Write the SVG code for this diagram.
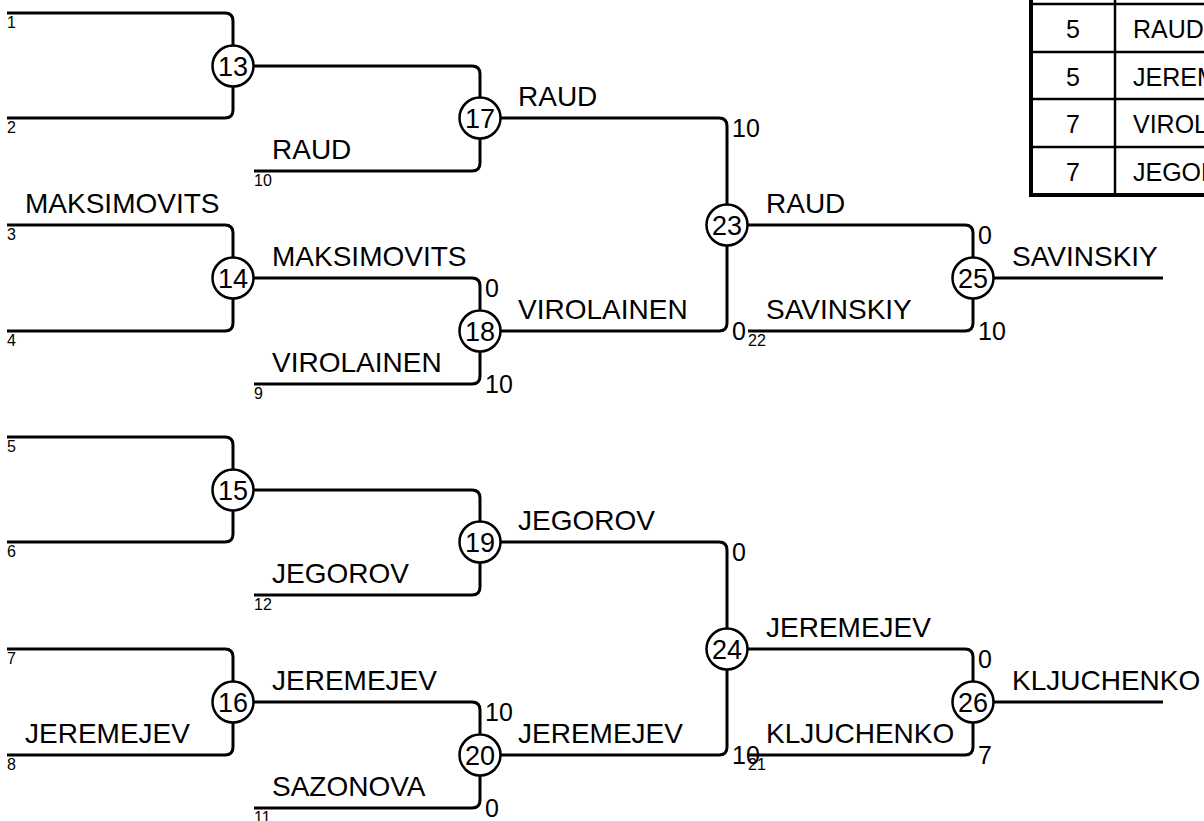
<svg xmlns="http://www.w3.org/2000/svg" width="1204" height="821" viewBox="0 0 1204 821">
<style>
.ln{fill:none;stroke:#000;stroke-width:3;stroke-linecap:butt}
.nd circle{fill:#fff;stroke:#000;stroke-width:2.5}
.nd text{font-family:"Liberation Sans",Arial,sans-serif;font-size:27px;text-anchor:middle;fill:#000}
.nm{font-family:"Liberation Sans",Arial,sans-serif;font-size:28px;fill:#000}
.sd{font-family:"Liberation Sans",Arial,sans-serif;font-size:16px;fill:#000}
.sc{font-family:"Liberation Sans",Arial,sans-serif;font-size:25px;fill:#000}
.tb{font-family:"Liberation Sans",Arial,sans-serif;font-size:25px;fill:#000}
.tl{stroke:#000;stroke-width:2.5;fill:none}
</style>
<rect width="1204" height="821" fill="#fff"/>
<g id="connectors">
<path class="ln" d="M7,13 H225 Q233,13 233,21 V66"/>
<path class="ln" d="M7,118 H225 Q233,118 233,110 V66"/>
<path class="ln" d="M233,66 H472 Q480,66 480,74 V118"/>
<path class="ln" d="M254,171 H472 Q480,171 480,163 V118"/>
<path class="ln" d="M7,225 H225 Q233,225 233,233 V278"/>
<path class="ln" d="M7,331 H225 Q233,331 233,323 V278"/>
<path class="ln" d="M233,278 H472 Q480,278 480,286 V331"/>
<path class="ln" d="M254,384 H472 Q480,384 480,376 V331"/>
<path class="ln" d="M480,118 H719 Q727,118 727,126 V225"/>
<path class="ln" d="M480,331 H719 Q727,331 727,323 V225"/>
<path class="ln" d="M727,225 H965 Q973,225 973,233 V278"/>
<path class="ln" d="M748,331 H965 Q973,331 973,323 V278"/>
<path class="ln" d="M973,278 H1163"/>
<path class="ln" d="M7,437 H225 Q233,437 233,445 V490"/>
<path class="ln" d="M7,542 H225 Q233,542 233,534 V490"/>
<path class="ln" d="M233,490 H472 Q480,490 480,498 V542"/>
<path class="ln" d="M254,595 H472 Q480,595 480,587 V542"/>
<path class="ln" d="M7,649 H225 Q233,649 233,657 V702"/>
<path class="ln" d="M7,755 H225 Q233,755 233,747 V702"/>
<path class="ln" d="M233,702 H472 Q480,702 480,710 V755"/>
<path class="ln" d="M254,808 H472 Q480,808 480,800 V755"/>
<path class="ln" d="M480,542 H719 Q727,542 727,550 V649"/>
<path class="ln" d="M480,755 H719 Q727,755 727,747 V649"/>
<path class="ln" d="M727,649 H965 Q973,649 973,657 V702"/>
<path class="ln" d="M748,755 H965 Q973,755 973,747 V702"/>
<path class="ln" d="M973,702 H1163"/>
</g>
<g id="node-13" class="nd"><circle cx="233" cy="66" r="20.5"/><text x="233" y="76">13</text></g>
<g id="node-14" class="nd"><circle cx="233" cy="278" r="20.5"/><text x="233" y="288">14</text></g>
<g id="node-15" class="nd"><circle cx="233" cy="490" r="20.5"/><text x="233" y="500">15</text></g>
<g id="node-16" class="nd"><circle cx="233" cy="702" r="20.5"/><text x="233" y="712">16</text></g>
<g id="node-17" class="nd"><circle cx="480" cy="118" r="20.5"/><text x="480" y="128">17</text></g>
<g id="node-18" class="nd"><circle cx="480" cy="331" r="20.5"/><text x="480" y="341">18</text></g>
<g id="node-19" class="nd"><circle cx="480" cy="542" r="20.5"/><text x="480" y="552">19</text></g>
<g id="node-20" class="nd"><circle cx="480" cy="755" r="20.5"/><text x="480" y="765">20</text></g>
<g id="node-23" class="nd"><circle cx="727" cy="225" r="20.5"/><text x="727" y="235">23</text></g>
<g id="node-24" class="nd"><circle cx="727" cy="649" r="20.5"/><text x="727" y="659">24</text></g>
<g id="node-25" class="nd"><circle cx="973" cy="278" r="20.5"/><text x="973" y="288">25</text></g>
<g id="node-26" class="nd"><circle cx="973" cy="702" r="20.5"/><text x="973" y="712">26</text></g>
<g id="seed-labels" class="sd">
<text x="7" y="28">1</text><text x="7" y="133">2</text><text x="7" y="240">3</text><text x="7" y="346">4</text>
<text x="7" y="452">5</text><text x="7" y="557">6</text><text x="7" y="664">7</text><text x="7" y="770">8</text>
<text x="254" y="186">10</text><text x="254" y="399">9</text><text x="254" y="610">12</text><text x="254" y="823">11</text>
<text x="748" y="346">22</text><text x="748" y="770">21</text>
</g>
<g id="names" class="nm">
<text x="25" y="213">MAKSIMOVITS</text>
<text x="25" y="743">JEREMEJEV</text>
<text x="272" y="159">RAUD</text>
<text x="272" y="266">MAKSIMOVITS</text>
<text x="272" y="372">VIROLAINEN</text>
<text x="272" y="583">JEGOROV</text>
<text x="272" y="690">JEREMEJEV</text>
<text x="272" y="796">SAZONOVA</text>
<text x="518" y="106">RAUD</text>
<text x="518" y="319">VIROLAINEN</text>
<text x="518" y="530">JEGOROV</text>
<text x="518" y="743">JEREMEJEV</text>
<text x="766" y="213">RAUD</text>
<text x="766" y="319">SAVINSKIY</text>
<text x="766" y="637">JEREMEJEV</text>
<text x="766" y="743">KLJUCHENKO</text>
<text x="1012" y="266">SAVINSKIY</text>
<text x="1012" y="690">KLJUCHENKO</text>
</g>
<g id="scores" class="sc">
<text x="485" y="297">0</text><text x="485" y="393">10</text>
<text x="732" y="137">10</text><text x="732" y="340">0</text>
<text x="978" y="244">0</text><text x="978" y="340">10</text>
<text x="485" y="721">10</text><text x="485" y="817">0</text>
<text x="732" y="561">0</text><text x="732" y="764">10</text>
<text x="978" y="668">0</text><text x="978" y="764">7</text>
</g>
<g id="table">
<rect x="1031" y="-44" width="320" height="239" fill="#fff" stroke="#000" stroke-width="4"/>
<line class="tl" x1="1031" y1="4" x2="1351" y2="4"/>
<line class="tl" x1="1031" y1="52" x2="1351" y2="52"/>
<line class="tl" x1="1031" y1="99" x2="1351" y2="99"/>
<line class="tl" x1="1031" y1="147" x2="1351" y2="147"/>
<line class="tl" x1="1115" y1="-44" x2="1115" y2="195"/>
<g class="tb">
<text x="1073" y="38" text-anchor="middle">5</text><text x="1133" y="38">RAUD</text>
<text x="1073" y="86" text-anchor="middle">5</text><text x="1133" y="86">JEREMEJEV</text>
<text x="1073" y="133" text-anchor="middle">7</text><text x="1133" y="133">VIROLAINEN</text>
<text x="1073" y="181" text-anchor="middle">7</text><text x="1133" y="181">JEGOROV</text>
</g>
</g>
</svg>
